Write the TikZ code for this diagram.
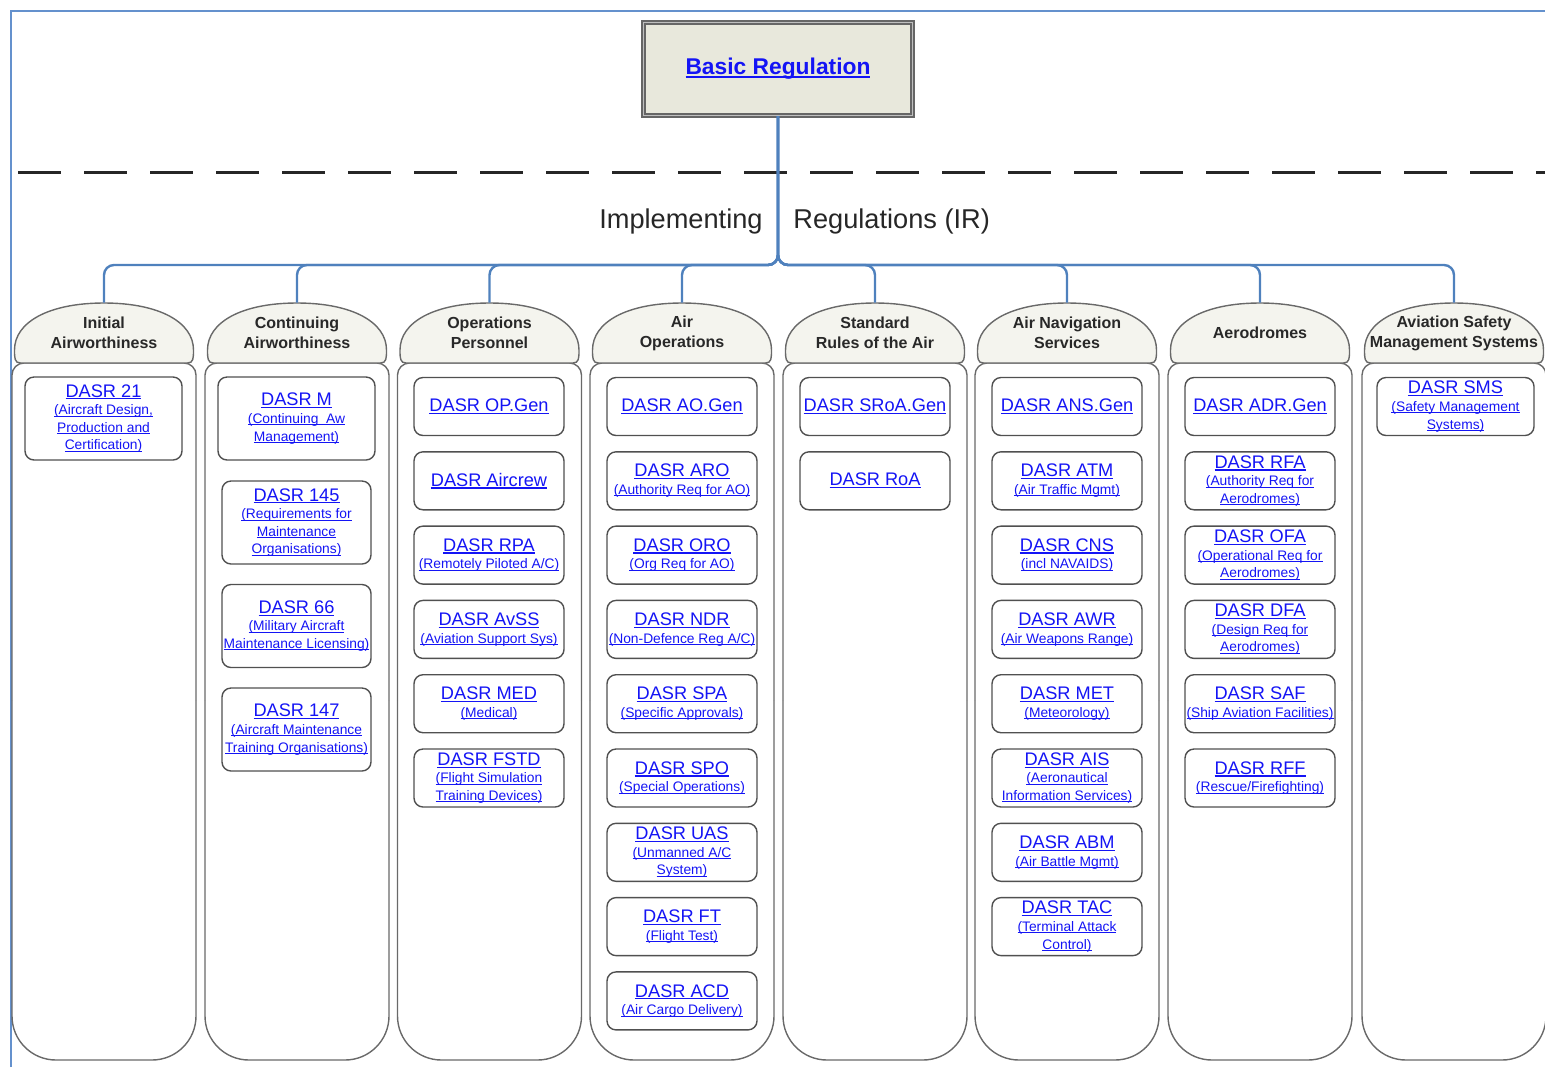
\documentclass[tikz,border=0pt]{standalone}
\usepackage{fontspec}
\setmainfont{Liberation Sans}
\definecolor{lnkblue}{RGB}{20,20,245}
\definecolor{connblue}{RGB}{79,129,189}
\definecolor{framblue}{RGB}{100,145,205}
\definecolor{boxgray}{RGB}{80,80,80}
\definecolor{colgray}{RGB}{105,105,105}
\definecolor{hdrfill}{RGB}{244,244,238}
\definecolor{topfill}{RGB}{232,232,220}
\definecolor{hdrtext}{RGB}{40,40,40}

% underlined link text
\newcommand{\lnk}[1]{\leavevmode\setbox0\hbox{#1}\rlap{\rule[-0.13em]{\wd0}{0.065em}}\box0}
\newcommand{\dtitle}[1]{{\fontsize{9.1}{8.8}\selectfont\lnk{#1}}}

\tikzset{
  outerframe/.style={draw=framblue, line width=0.75pt},
  sepline/.style={draw=black!85, line width=1.5pt, dash pattern=on 21.5pt off 11.5pt},
  conn/.style={draw=connblue, line width=1.2pt, rounded corners=5pt},
  topbox/.style={draw=black!60, line width=0.7pt, double=black!25, double distance=0.9pt, fill=topfill,
    minimum width=134.5pt, minimum height=46.5pt, text=lnkblue, font=\fontsize{11.4}{13}\selectfont\bfseries},
  irlabel/.style={inner sep=0pt, text=black!85, font=\fontsize{13.6}{16}\selectfont},
  hdr/.style={minimum width=89pt, minimum height=30pt, inner sep=0pt, align=center, text=hdrtext,
    font=\fontsize{8}{10}\selectfont\bfseries},
  colbody/.style={draw=colgray, line width=0.7pt},
  dome/.style={draw=colgray, line width=0.7pt, fill=hdrfill},
  item/.style={draw=boxgray, line width=0.7pt, fill=white, rounded corners=4.5pt, minimum width=75pt,
    minimum height=29pt, inner sep=0.5pt, align=center, text=lnkblue, font=\fontsize{6.9}{8.8}\selectfont},
  tallitem/.style={item, minimum width=74.5pt, minimum height=41.5pt},
  wideitem/.style={minimum width=78.5pt}
}

\begin{document}
\begin{tikzpicture}[x=0.5pt,y=-0.5pt]
\useasboundingbox (0,0) rectangle (1545,1067);
\draw[outerframe] (11,1067) -- (11,11) -- (1545,11);

% columns: body and dome
\foreach \cx in {104,297,489.5,682,875,1067,1260,1454} {
  \draw[colbody, rounded corners=6pt] (\cx-92,700) -- (\cx-92,363) -- (\cx+92,363) -- (\cx+92,700);
  \draw[colbody, rounded corners=22pt] (\cx-92,700) -- (\cx-92,1060) -- (\cx+92,1060) -- (\cx+92,700);
  \draw[dome] (\cx-83.5,363) -- (\cx+83.5,363) .. controls (\cx+89.5,363) and (\cx+89.5,358) .. (\cx+89.5,350)
    .. controls (\cx+89.5,322) and (\cx+55,303) .. (\cx,303)
    .. controls (\cx-55,303) and (\cx-89.5,322) .. (\cx-89.5,350)
    .. controls (\cx-89.5,358) and (\cx-89.5,363) .. (\cx-83.5,363) -- cycle;
}
\foreach \cx/\nm/\txt in {104/hIA/{Initial\\Airworthiness}, 297/hCA/{Continuing\\Airworthiness},
    489.5/hOP/{Operations\\Personnel}, 682/hAO/{Air\\Operations}, 875/hSR/{Standard\\Rules of the Air},
    1067/hANS/{Air Navigation\\Services}, 1260/hADR/{Aerodromes}, 1454/hSMS/{Aviation Safety\\Management Systems}}
  \node[hdr] (\nm) at (\cx,333) {\txt};

% top of the tree
\node[topbox] (basic) at (778,69) {\lnk{Basic Regulation}};
\draw[sepline] (18,172) -- (1545,172);
\node[irlabel, anchor=base east] (implab) at (763,228) {Implementing};
\node[irlabel, anchor=base west] (reglab) at (793,228) {Regulations (IR)};
\coordinate (split) at (778,265);
\foreach \h in {hIA,hCA,hOP,hAO,hSR,hANS,hADR,hSMS}
  \draw[conn] (basic.south) -- (split) -- (split -| \h.north) -- (\h.north);

% Initial Airworthiness
\node[tallitem, wideitem] (d21) at (103.5,418.5) {\dtitle{DASR 21}\\\lnk{(Aircraft Design,}\\\lnk{Production and}\\\lnk{Certification)}};

% Continuing Airworthiness
\node[tallitem, wideitem] (dm) at (296.5,418.5) {\dtitle{DASR M}\\\lnk{(Continuing\ \ Aw}\\\lnk{Management)}};
\node[tallitem] (d145) at (296.5,522.5) {\dtitle{DASR 145}\\\lnk{(Requirements for}\\\lnk{Maintenance}\\\lnk{Organisations)}};
\node[tallitem] (d66) at (296.5,626) {\dtitle{DASR 66}\\\lnk{(Military Aircraft}\\\lnk{Maintenance Licensing)}};
\node[tallitem] (d147) at (296.5,729.5) {\dtitle{DASR 147}\\\lnk{(Aircraft Maintenance}\\\lnk{Training Organisations)}};

% Operations Personnel
\foreach \i/\nm/\txt in {0/opgen/{\dtitle{DASR OP.Gen}}, 1/aircrew/{\dtitle{DASR Aircrew}},
    2/rpa/{\dtitle{DASR RPA}\\\lnk{(Remotely Piloted A/C)}}, 3/avss/{\dtitle{DASR AvSS}\\\lnk{(Aviation Support Sys)}},
    4/med/{\dtitle{DASR MED}\\\lnk{(Medical)}}, 5/fstd/{\dtitle{DASR FSTD}\\\lnk{(Flight Simulation}\\\lnk{Training Devices)}}}
  \node[item] (\nm) at (489,406.5+74.3*\i) {\txt};

% Air Operations
\foreach \i/\nm/\txt in {0/aogen/{\dtitle{DASR AO.Gen}}, 1/aro/{\dtitle{DASR ARO}\\\lnk{(Authority Req for AO)}},
    2/oro/{\dtitle{DASR ORO}\\\lnk{(Org Req for AO)}}, 3/ndr/{\dtitle{DASR NDR}\\\lnk{(Non-Defence Reg A/C)}},
    4/spa/{\dtitle{DASR SPA}\\\lnk{(Specific Approvals)}}, 5/spo/{\dtitle{DASR SPO}\\\lnk{(Special Operations)}},
    6/uas/{\dtitle{DASR UAS}\\\lnk{(Unmanned A/C}\\\lnk{System)}}, 7/ft/{\dtitle{DASR FT}\\\lnk{(Flight Test)}},
    8/acd/{\dtitle{DASR ACD}\\\lnk{(Air Cargo Delivery)}}}
  \node[item] (\nm) at (682,406.5+74.3*\i) {\txt};

% Standard Rules of the Air
\node[item] (sroagen) at (875,406.5) {\dtitle{DASR SRoA.Gen}};
\node[item] (roa) at (875,480.8) {\dtitle{DASR RoA}};

% Air Navigation Services
\foreach \i/\nm/\txt in {0/ansgen/{\dtitle{DASR ANS.Gen}}, 1/atm/{\dtitle{DASR ATM}\\\lnk{(Air Traffic Mgmt)}},
    2/cns/{\dtitle{DASR CNS}\\\lnk{(incl NAVAIDS)}}, 3/awr/{\dtitle{DASR AWR}\\\lnk{(Air Weapons Range)}},
    4/met/{\dtitle{DASR MET}\\\lnk{(Meteorology)}}, 5/ais/{\dtitle{DASR AIS}\\\lnk{(Aeronautical}\\\lnk{Information Services)}},
    6/abm/{\dtitle{DASR ABM}\\\lnk{(Air Battle Mgmt)}}, 7/tac/{\dtitle{DASR TAC}\\\lnk{(Terminal Attack}\\\lnk{Control)}}}
  \node[item] (\nm) at (1067,406.5+74.3*\i) {\txt};

% Aerodromes
\foreach \i/\nm/\txt in {0/adrgen/{\dtitle{DASR ADR.Gen}}, 1/rfa/{\dtitle{DASR RFA}\\\lnk{(Authority Req for}\\\lnk{Aerodromes)}},
    2/ofa/{\dtitle{DASR OFA}\\\lnk{(Operational Req for}\\\lnk{Aerodromes)}}, 3/dfa/{\dtitle{DASR DFA}\\\lnk{(Design Req for}\\\lnk{Aerodromes)}},
    4/saf/{\dtitle{DASR SAF}\\\lnk{(Ship Aviation Facilities)}}, 5/rff/{\dtitle{DASR RFF}\\\lnk{(Rescue/Firefighting)}}}
  \node[item] (\nm) at (1260,406.5+74.3*\i) {\txt};

% Aviation Safety Management Systems
\node[item, wideitem] (sms) at (1455.5,406.5) {\dtitle{DASR SMS}\\\lnk{(Safety Management}\\\lnk{Systems)}};
\end{tikzpicture}
\end{document}
